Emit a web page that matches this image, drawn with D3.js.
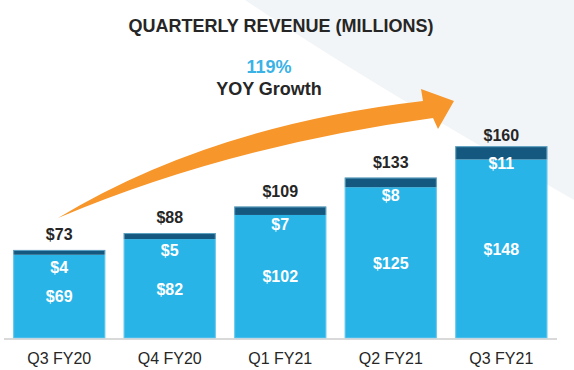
<!DOCTYPE html>
<html><head><meta charset="utf-8">
<script src="https://cdn.jsdelivr.net/npm/d3@7"></script>
<style>html,body{margin:0;padding:0;background:#fff;}svg{display:block;font-family:"Liberation Sans",Arial,sans-serif;}</style>
</head><body>
<svg id="c" width="574" height="370"></svg>
<script>
const categories = ["Q3 FY20","Q4 FY20","Q1 FY21","Q2 FY21","Q3 FY21"];
const baseValues = [69, 82, 102, 125, 148];
const topValues = [4, 5, 7, 8, 11];
const totalLabels = ["$73","$88","$109","$133","$160"];
const title = "QUARTERLY REVENUE (MILLIONS)";
const growthPct = "119%";
const growthText = "YOY Growth";

const svg = d3.select("#c");
const W = 574, H = 370;
const baseY = 338;

// background shape
svg.append("path")
  .attr("d", "M245,0 Q360,78 574,200 L574,0 Z")
  .attr("fill", "#F2F5F7");

const x = d3.scaleBand().domain(categories).range([4, 556.5]).paddingInner(0.167).paddingOuter(0.083);
const y = d3.scaleLinear().domain([0, 160]).range([baseY, 145]);

// baseline
svg.append("line").attr("x1", 4).attr("x2", 557).attr("y1", baseY + 1).attr("y2", baseY + 1)
  .attr("stroke", "#D9D9D9").attr("stroke-width", 2);

const data = categories.map((c, i) => ({c, b: baseValues[i], t: topValues[i], lbl: totalLabels[i], i}));

const g = svg.append("g");
g.selectAll("rect.base").data(data).join("rect").attr("class","base")
  .attr("x", d => x(d.c)).attr("width", x.bandwidth())
  .attr("y", d => y(d.b)).attr("height", d => baseY - y(d.b))
  .attr("fill", "#29B4E7");
g.selectAll("rect.top").data(data).join("rect").attr("class","top")
  .attr("x", d => x(d.c)).attr("width", x.bandwidth())
  .attr("y", d => y(d.b + d.t)).attr("height", d => y(d.b) - y(d.b + d.t))
  .attr("fill", "#15587F");
// subtle outline
g.selectAll("rect.edge").data(data).join("rect").attr("class","edge")
  .attr("x", d => x(d.c) + 0.5).attr("width", x.bandwidth() - 1)
  .attr("y", d => y(d.b + d.t) + 0.5).attr("height", d => baseY - y(d.b + d.t) - 0.5)
  .attr("fill", "none").attr("stroke", "#8ED3F0").attr("stroke-width", 1).attr("stroke-opacity", 0.6);

// total labels
g.selectAll("text.tot").data(data).join("text").attr("class","tot")
  .attr("x", d => x(d.c) + x.bandwidth()/2)
  .attr("y", d => y(d.b + d.t) - (d.i === data.length - 1 ? 5 : 10))
  .attr("text-anchor","middle").attr("font-size", 16).attr("font-weight","bold").attr("fill","#262626")
  .text(d => d.lbl);
// top segment labels
g.selectAll("text.topl").data(data).join("text").attr("class","topl")
  .attr("x", d => x(d.c) + x.bandwidth()/2)
  .attr("y", d => y(d.b + d.t) + 23)
  .attr("text-anchor","middle").attr("font-size", 16).attr("font-weight","bold").attr("fill","#fff")
  .text(d => "$" + d.t);
// base labels
g.selectAll("text.basel").data(data).join("text").attr("class","basel")
  .attr("x", d => x(d.c) + x.bandwidth()/2)
  .attr("y", d => (y(d.b) + baseY)/2 + 6)
  .attr("text-anchor","middle").attr("font-size", 16).attr("font-weight","bold").attr("fill","#fff")
  .text(d => "$" + d.b);
// category labels
g.selectAll("text.cat").data(data).join("text").attr("class","cat")
  .attr("x", d => x(d.c) + x.bandwidth()/2)
  .attr("y", 364)
  .attr("text-anchor","middle").attr("font-size", 16).attr("fill","#262626")
  .text(d => d.c);

// arrow
svg.append("path")
  .attr("d", "M58,218 Q210,126 423,101 L421,89 L454,101 L438,129 L433,118 Q228,146 58,218 Z")
  .attr("fill", "#F7962A");

// title & annotation
svg.append("text").attr("x", 281).attr("y", 32).attr("text-anchor","middle")
  .attr("font-size", 18).attr("font-weight","bold").attr("fill","#262626").text(title);
svg.append("text").attr("x", 269).attr("y", 73).attr("text-anchor","middle")
  .attr("font-size", 18).attr("font-weight","bold").attr("fill","#3BB2E6").text(growthPct);
svg.append("text").attr("x", 269).attr("y", 95).attr("text-anchor","middle")
  .attr("font-size", 18).attr("font-weight","bold").attr("fill","#262626").text(growthText);
</script>
</body></html>
